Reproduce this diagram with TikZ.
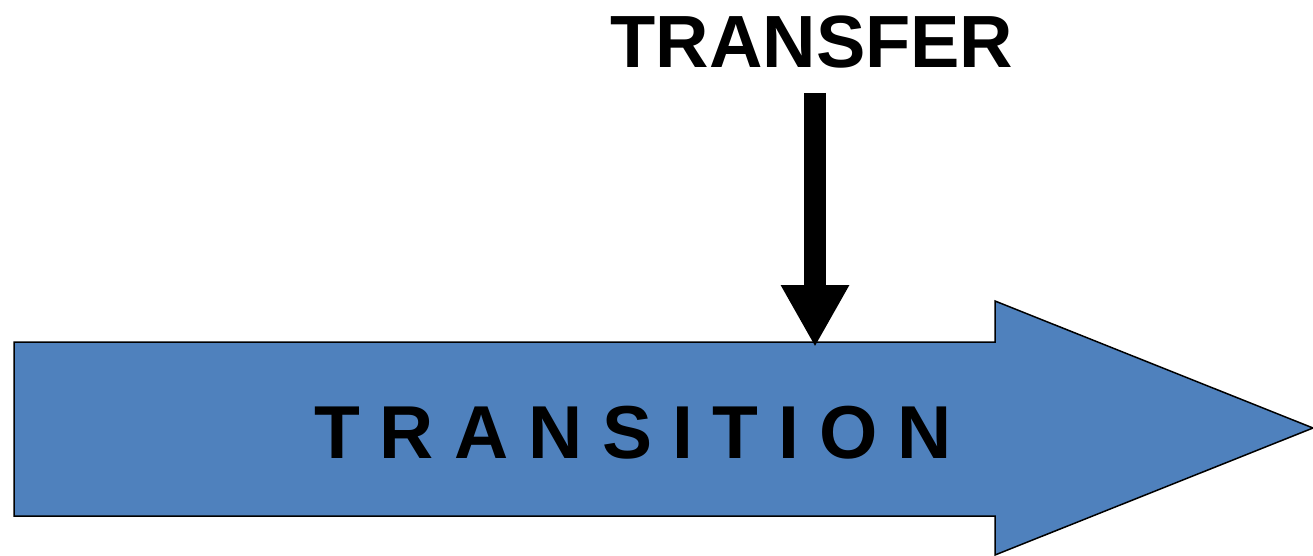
\documentclass[tikz,border=0pt]{standalone}
\usepackage{fontspec}
\setmainfont{Liberation Sans}
\usetikzlibrary{arrows.meta}
\definecolor{flowblue}{HTML}{4F81BD}
\tikzset{
  bigarrow/.style={fill=flowblue, draw=black, line width=1.5pt, line join=miter},
  pointer/.style={line width=22pt, line cap=butt, -{Triangle[width=64pt,length=62pt]}},
  caption/.style={font=\bfseries\fontsize{74}{76}\selectfont, inner sep=0pt, anchor=base},
  bandtext/.style={font=\bfseries\fontsize{75}{78}\selectfont, inner sep=0pt, anchor=base}
}
\newcommand{\lsp}{\hspace{19.9pt}}
\begin{document}
\begin{tikzpicture}[x=1pt,y=-1pt]
  \useasboundingbox (0,0) rectangle (1313,556);
  % main horizontal block arrow
  \draw[bigarrow] (14,342) -- (995,342) -- (995,301) -- (1313,428)
    -- (995,555) -- (995,516) -- (14,516) -- cycle;
  \node[bandtext] (transition) at (633,458)
    {T\lsp R\lsp A\lsp N\lsp S\lsp I\lsp T\lsp I\lsp O\lsp N};
  % label and pointer dropping onto the block arrow
  \node[caption] (transfer) at (812,68) {TRANSFER};
  \coordinate (shafttop) at (815,93);
  \coordinate (hit) at (815,347);
  \draw[pointer] (shafttop) -- (hit);
\end{tikzpicture}
\end{document}
